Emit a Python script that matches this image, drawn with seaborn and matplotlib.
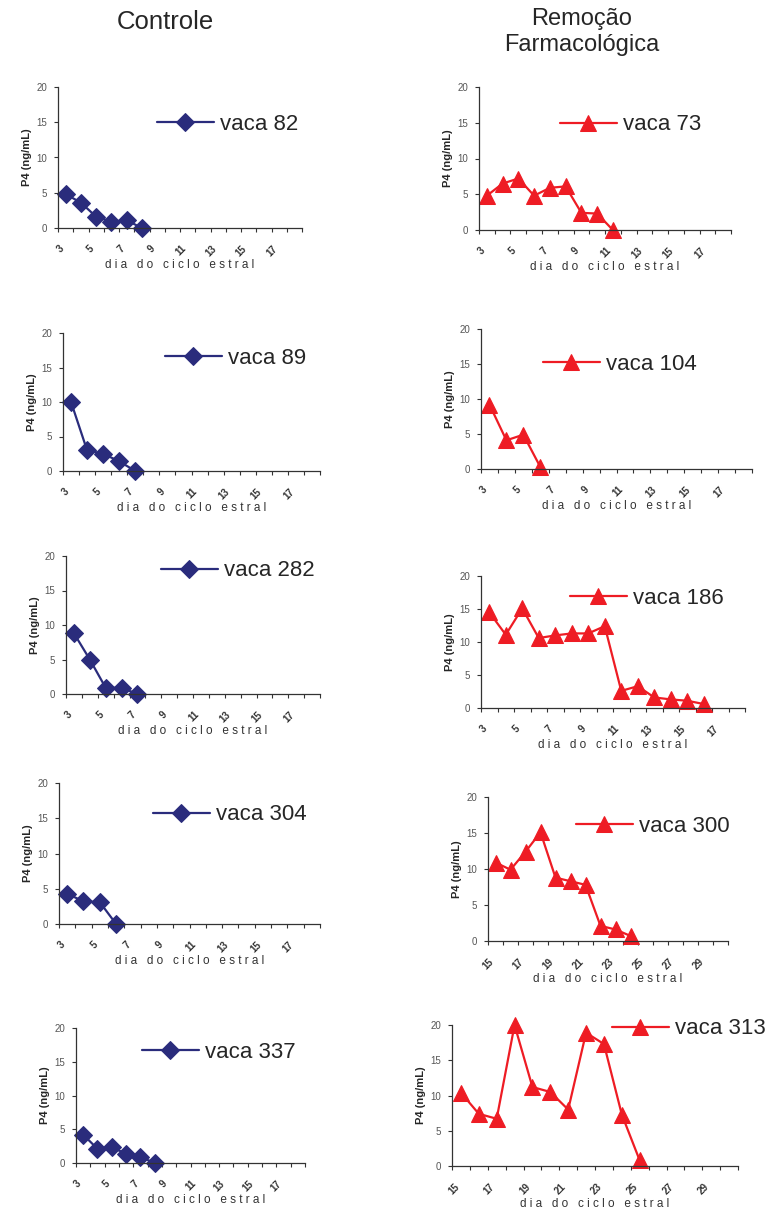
import numpy as np
import pandas as pd
import matplotlib
matplotlib.use("Agg")
import matplotlib.pyplot as plt
import seaborn as sns

sns.set_style("white")
plt.rcParams['font.family'] = ['Liberation Sans', 'DejaVu Sans']

# ---------------- data ----------------
ctrl_names = ["vaca 82", "vaca 89", "vaca 282", "vaca 304", "vaca 337"]
ctrl_vals = [
    [4.8, 3.6, 1.6, 0.9, 1.1, 0.0],
    [10.0, 3.0, 2.5, 1.4, 0.0],
    [8.8, 5.0, 0.9, 0.9, 0.0],
    [4.3, 3.2, 3.1, 0.0],
    [4.2, 2.1, 2.3, 1.4, 0.9, 0.0],
]
rem_names = ["vaca 73", "vaca 104", "vaca 186", "vaca 300", "vaca 313"]
rem_vals = [
    [4.8, 6.5, 7.2, 4.8, 5.9, 6.1, 2.4, 2.3, 0.0],
    [9.2, 4.1, 4.9, 0.3],
    [14.5, 11.1, 15.1, 10.6, 11.0, 11.3, 11.3, 12.4, 2.6, 3.3, 1.6, 1.3, 1.1, 0.6],
    [10.9, 9.9, 12.4, 15.1, 8.8, 8.3, 7.8, 2.1, 1.6, 0.7],
    [10.4, 7.4, 6.7, 20.0, 11.2, 10.5, 8.0, 18.9, 17.3, 7.3, 0.8],
]
# first day on each panel's axis (16 daily categories per panel)
ctrl_first_day = [3, 3, 3, 3, 3]
rem_first_day = [3, 3, 3, 15, 15]
n_days = 16
y_ticks = [0, 5, 10, 15, 20]

W, H = 774, 1212
fig = plt.figure(figsize=(W / 100, H / 100), dpi=100)

# axes boxes in pixels: (x0, x1, ytop, ybottom)
ctrl_boxes = [(58, 302, 87, 228), (63, 320, 333, 471), (66, 320, 556, 694),
              (59, 320, 783, 924), (76, 305, 1028, 1163)]
rem_boxes = [(479, 731, 87, 230), (481, 752, 329, 469), (481, 745, 576, 708),
             (488, 728, 797, 941), (452, 738, 1025, 1166)]
# legend line start (px) and y (px)
ctrl_leg = [(157, 124), (165, 358), (161, 571), (153, 815), (142, 1052)]
rem_leg = [(560, 125), (543, 364), (570, 598), (576, 826), (612, 1029)]

navy = "#2A2C7C"
red = "#EE1C24"


def make_panel(box, leg, name, vals, first_day, color, marker, ms):
    x0, x1, yt, yb = box
    ax = fig.add_axes([x0 / W, 1 - yb / H, (x1 - x0) / W, (yb - yt) / H])
    days = np.arange(first_day, first_day + n_days)
    df = pd.DataFrame({"dia": days[:len(vals)], "P4": vals})
    sns.lineplot(data=df, x="dia", y="P4", ax=ax, color=color, marker=marker,
                 markersize=ms, markeredgecolor=color, linewidth=1.6,
                 label=name, clip_on=False)
    ax.set_xlim(first_day - 0.5, first_day + n_days - 0.5)
    ax.set_ylim(0, 20)
    ax.set_yticks(y_ticks)
    ax.set_yticklabels([str(v) for v in y_ticks], fontsize=7, color="#555555")
    ax.set_xticks(days[::2])
    ax.set_xticklabels([str(d) for d in days[::2]], rotation=45, ha="right",
                       fontsize=7, fontweight="bold", color="#333333")
    ax.set_xticks(np.arange(first_day - 0.5, first_day + n_days, 1), minor=True)
    ax.tick_params(axis="x", which="major", length=0, pad=11)
    ax.tick_params(axis="x", which="minor", length=3, width=0.8, direction="out",
                   color="#333333", bottom=True)
    ax.tick_params(axis="y", length=3, width=0.8, direction="out", color="#333333",
                   left=True, pad=5)
    for s in ["top", "right"]:
        ax.spines[s].set_visible(False)
    for s in ["left", "bottom"]:
        ax.spines[s].set_color("#333333")
        ax.spines[s].set_linewidth(0.9)
    ax.set_xlabel("d i a   d o   c i c l o   e s t r a l", fontsize=8.5,
                  color="#333333", labelpad=1)
    ax.set_ylabel("P4 (ng/mL)", fontsize=8, fontweight="bold", labelpad=3)
    ax.grid(False)
    lx, ly = leg
    bx = (lx - x0) / (x1 - x0)
    by = (yb - ly) / (yb - yt)
    ax.legend(loc="center left", bbox_to_anchor=(bx, by), frameon=False,
              fontsize=16, handlelength=2.55, handletextpad=0.3,
              borderpad=0, borderaxespad=0)
    return ax


for i in range(5):
    make_panel(ctrl_boxes[i], ctrl_leg[i], ctrl_names[i], ctrl_vals[i],
               ctrl_first_day[i], navy, "D", 9)
    make_panel(rem_boxes[i], rem_leg[i], rem_names[i], rem_vals[i],
               rem_first_day[i], red, "^", 12)

fig.text(165 / W, 1 - 22 / H, "Controle", ha="center", va="center", fontsize=18.5)
fig.text(582 / W, 1 - 32 / H, "Remoção\nFarmacológica", ha="center", va="center",
         fontsize=17, linespacing=1.2)

fig.savefig("out.png", dpi=100)
